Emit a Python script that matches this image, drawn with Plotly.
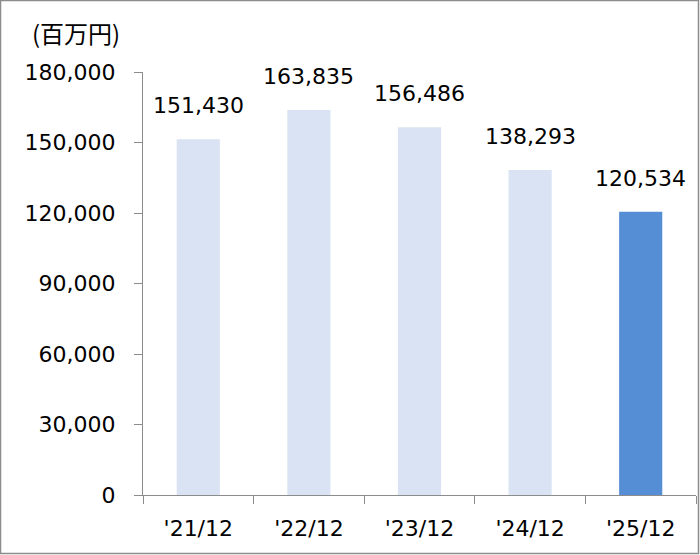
import plotly.graph_objects as go

categories = ["'21/12", "'22/12", "'23/12", "'24/12", "'25/12"]
values = [151430, 163835, 156486, 138293, 120534]
bar_colors = ["#DAE3F3", "#DAE3F3", "#DAE3F3", "#DAE3F3", "#558ED5"]
y_ticks = [0, 30000, 60000, 90000, 120000, 150000, 180000]
y_ticktext = ["0", "30,000", "60,000", "90,000", "120,000", "150,000", "180,000"]
unit_label = "(百万円)"

W, H = 700, 555
L, R, T, B = 143, 4, 72, 60
FONT = "DejaVu Sans"

fig = go.Figure()
fig.add_trace(go.Bar(
    x=categories, y=values,
    marker=dict(color=bar_colors, line=dict(width=0)),
    width=0.39,
    hoverinfo="skip",
))

for c, v in zip(categories, values):
    fig.add_annotation(
        x=c, y=v, text=f"{v:,}", showarrow=False,
        yanchor="bottom", yshift=19,
        font=dict(family=FONT, size=22, color="#000000"),
    )

pw = W - L - R
ph = H - T - B
def px(x):
    return (x - L) / pw
def py(y):
    return 1 - (y - T) / ph

fig.add_annotation(
    x=px(30), y=py(33), xref="paper", yref="paper",
    text=unit_label, showarrow=False, xanchor="left", yanchor="middle",
    font=dict(family="Noto Sans CJK JP", size=24, color="#000000"),
)

fig.add_shape(
    type="rect", xref="paper", yref="paper",
    x0=px(0.5), x1=px(W - 1.5), y0=py(0.5), y1=py(H - 1.5),
    line=dict(color="#8C8C8C", width=1.5),
)

fig.update_layout(
    width=W, height=H,
    margin=dict(l=L, r=R, t=T, b=B),
    paper_bgcolor="white", plot_bgcolor="white",
    showlegend=False,
    xaxis=dict(
        type="category", range=[-0.5, 4.5],
        showline=True, linecolor="#8C8C8C", linewidth=1,
        ticks="outside", ticklen=8, tickcolor="#8C8C8C", tickson="boundaries",
        tickfont=dict(family=FONT, size=22, color="#000000"),
        ticklabelstandoff=14,
        showgrid=False, zeroline=False,
    ),
    yaxis=dict(
        range=[0, 180000],
        tickvals=y_ticks, ticktext=y_ticktext,
        showline=True, linecolor="#8C8C8C", linewidth=1,
        ticks="outside", ticklen=8, tickcolor="#8C8C8C",
        tickfont=dict(family=FONT, size=22, color="#000000"),
        ticklabelstandoff=14,
        showgrid=False, zeroline=False,
    ),
)

fig.write_html(
    "out.html",
    config={"displayModeBar": False, "staticPlot": True},
    post_script="document.body.style.margin='0';document.body.style.overflow='hidden';",
)
